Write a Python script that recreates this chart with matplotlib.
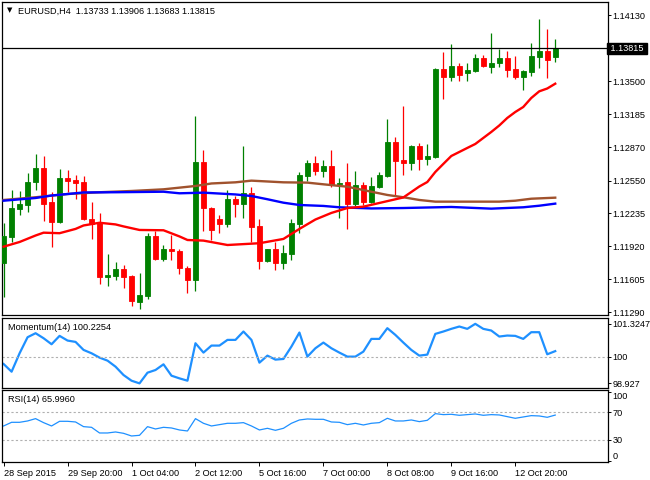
import matplotlib
matplotlib.use("Agg")
import matplotlib.pyplot as plt
import numpy as np

# EURUSD H4 candles
opens = [1.11764, 1.12013, 1.12281, 1.12319, 1.12536, 1.12670, 1.12345, 1.12153, 1.12575, 1.12555,
         1.12536, 1.12182, 1.12144, 1.11630, 1.11637, 1.11704, 1.11637, 1.11388, 1.11445, 1.12019,
         1.11799, 1.11895, 1.11876, 1.11716, 1.11598, 1.12728, 1.12290, 1.12182, 1.12134, 1.12374,
         1.12329, 1.12431, 1.12115, 1.11783, 1.11895, 1.11764, 1.11850, 1.12134, 1.12594, 1.12718,
         1.12642, 1.12689, 1.12514, 1.12536, 1.12326, 1.12508, 1.12345, 1.12488, 1.12594, 1.12919,
         1.12747, 1.12718, 1.12881, 1.12756, 1.12778, 1.13618, 1.13544, 1.13646, 1.13582, 1.13602,
         1.13723, 1.13640, 1.13672, 1.13723, 1.13618, 1.13544, 1.13592, 1.13735, 1.13790, 1.13733]
highs = [1.12141, 1.12460, 1.12450, 1.12625, 1.12804, 1.12785, 1.12441, 1.12661, 1.12651, 1.12603,
         1.12594, 1.12345, 1.12240, 1.11847, 1.11771, 1.11742, 1.11650, 1.11665, 1.12045, 1.12070,
         1.11933, 1.12029, 1.11890, 1.11730, 1.13168, 1.12843, 1.12300, 1.12221, 1.12460, 1.12402,
         1.12881, 1.12491, 1.12182, 1.11895, 1.11962, 1.11933, 1.12182, 1.12632, 1.12747, 1.12785,
         1.12747, 1.12843, 1.12575, 1.12718, 1.12642, 1.12536, 1.12584, 1.12632, 1.13139, 1.12967,
         1.13264, 1.12890, 1.12910, 1.12900, 1.13630, 1.13780, 1.13857, 1.13675, 1.13675, 1.13761,
         1.13752, 1.13962, 1.13809, 1.13790, 1.13742, 1.13610, 1.13869, 1.14096, 1.14000, 1.13906]
lows = [1.11439, 1.11965, 1.12223, 1.12252, 1.12460, 1.12166, 1.11917, 1.12144, 1.12441, 1.12374,
        1.12173, 1.11991, 1.11560, 1.11544, 1.11598, 1.11522, 1.11350, 1.11321, 1.11419, 1.11790,
        1.11780, 1.11790, 1.11656, 1.11477, 1.11493, 1.12070, 1.11981, 1.12051, 1.12108, 1.12204,
        1.12195, 1.11965, 1.11707, 1.11774, 1.11697, 1.11707, 1.11790, 1.12045, 1.12546, 1.12603,
        1.12584, 1.12488, 1.12192, 1.12087, 1.12307, 1.12316, 1.12335, 1.12479, 1.12584, 1.12402,
        1.12603, 1.12651, 1.12651, 1.12699, 1.12766, 1.13331, 1.13506, 1.13506, 1.13506, 1.13589,
        1.13640, 1.13582, 1.13637, 1.13544, 1.13519, 1.13420, 1.13551, 1.13630, 1.13534, 1.13683]
closes = [1.12019, 1.12287, 1.12326, 1.12536, 1.12670, 1.12326, 1.12156, 1.12575, 1.12549, 1.12527,
          1.12182, 1.12134, 1.11630, 1.11646, 1.11704, 1.11627, 1.11397, 1.11455, 1.12019, 1.11799,
          1.11895, 1.11876, 1.11716, 1.11598, 1.12728, 1.12290, 1.12077, 1.12137, 1.12374, 1.12329,
          1.12431, 1.12108, 1.11783, 1.11895, 1.11764, 1.11857, 1.12144, 1.12603, 1.12718, 1.12642,
          1.12689, 1.12508, 1.12527, 1.12326, 1.12508, 1.12345, 1.12498, 1.12603, 1.12919, 1.12737,
          1.12718, 1.12881, 1.12756, 1.12785, 1.13618, 1.13544, 1.13646, 1.13563, 1.13608, 1.13723,
          1.13646, 1.13675, 1.13723, 1.13611, 1.13544, 1.13602, 1.13742, 1.13790, 1.13704, 1.13815]

# moving averages, sampled at some bars
red_ma_bars = [0, 2, 4, 5, 7, 9, 10, 12, 14, 15, 17, 20, 22, 23, 25, 28, 32, 35, 37, 39, 41, 43, 45,
               48, 50, 52, 53, 54, 55, 56, 58, 59, 61, 62, 63, 64, 65, 66, 67, 68, 69]
red_ma = [1.11917, 1.11962, 1.12024, 1.12051, 1.12046, 1.12087, 1.12120, 1.12146, 1.12130, 1.12111,
          1.12077, 1.12074, 1.12015, 1.11981, 1.11975, 1.11933, 1.11950, 1.11991, 1.12087, 1.12177,
          1.12240, 1.12287, 1.12300, 1.12353, 1.12388, 1.12493, 1.12536, 1.12632, 1.12709, 1.12785,
          1.12862, 1.12900, 1.13015, 1.13077, 1.13149, 1.13206, 1.13254, 1.13340, 1.13404, 1.13431,
          1.13477]
blue_ma_bars = [0, 4, 6, 8, 10, 14, 20, 22, 25, 29, 31, 33, 35, 37, 40, 42, 46, 50, 56, 61, 65, 67, 69]
blue_ma = [1.12357, 1.12383, 1.12407, 1.12421, 1.12436, 1.12438, 1.12443, 1.12428, 1.12434, 1.12417,
           1.12402, 1.12371, 1.12338, 1.12316, 1.12307, 1.12294, 1.12283, 1.12287, 1.12297, 1.12281,
           1.12294, 1.12309, 1.12329]
brown_ma_bars = [0, 4, 8, 12, 16, 20, 24, 26, 29, 31, 35, 38, 40, 43, 46, 48, 50, 52, 54, 62, 64, 66, 69]
brown_ma = [1.12364, 1.12390, 1.12421, 1.12438, 1.12450, 1.12466, 1.12498, 1.12522, 1.12533, 1.12549,
            1.12533, 1.12530, 1.12514, 1.12491, 1.12443, 1.12412, 1.12390, 1.12364, 1.12348, 1.12348,
            1.12357, 1.12376, 1.12386]

momentum = [99.707, 99.397, 100.139, 100.786, 100.947, 100.745, 100.503, 100.840, 100.651, 100.597,
            100.274, 100.139, 99.964, 99.842, 99.600, 99.263, 99.034, 98.927, 99.357, 99.465,
            99.694, 99.236, 99.128, 99.034, 100.543, 100.166, 100.449, 100.449, 100.678, 100.678,
            101.015, 100.678, 99.761, 100.044, 99.883, 99.910, 100.408, 100.974, 100.004, 100.341,
            100.570, 100.341, 100.166, 100.004, 100.004, 100.206, 100.718, 100.718, 101.150, 100.880,
            100.570, 100.274, 100.044, 100.085, 100.920, 101.015, 101.123, 101.217, 101.123, 101.3247,
            101.123, 101.055, 100.813, 100.853, 100.840, 100.718, 100.988, 100.988, 100.098, 100.2254]
rsi = [50.24, 55.54, 55.54, 57.47, 60.84, 55.06, 50.24, 56.99, 56.99, 56.02,
       49.28, 48.31, 40.12, 40.12, 41.57, 39.64, 35.78, 36.75, 49.28, 45.90,
       48.31, 47.35, 44.46, 43.01, 60.84, 54.10, 50.24, 52.17, 54.10, 54.10,
       55.06, 50.24, 44.46, 46.87, 43.98, 46.87, 54.10, 58.92, 60.36, 59.88,
       59.88, 56.02, 55.54, 52.17, 54.10, 51.69, 54.10, 55.06, 61.33, 57.47,
       57.47, 58.92, 56.51, 58.43, 68.07, 66.63, 67.11, 65.66, 66.63, 67.59,
       65.66, 66.63, 66.14, 63.73, 61.33, 63.25, 65.18, 64.70, 62.77, 65.996]

price_ticks = [1.11290, 1.11605, 1.11920, 1.12235, 1.12550, 1.12870, 1.13185, 1.13500, 1.14130]
time_tick_bars = [0, 8, 16, 24, 32, 40, 48, 56, 64]
time_labels = ["28 Sep 2015", "29 Sep 20:00", "1 Oct 04:00", "2 Oct 12:00", "5 Oct 16:00",
               "7 Oct 00:00", "8 Oct 08:00", "9 Oct 16:00", "12 Oct 20:00"]
last_price = 1.13815

plt.rcParams['font.family'] = ['Liberation Sans', 'DejaVu Sans']
FS = 6.6

fig = plt.figure(figsize=(6.5, 4.8), dpi=100)
W, H = 650.0, 480.0


def panel(top, bottom):
    return fig.add_axes([2 / W, 1 - bottom / H, 606 / W, (bottom - top) / H])


ax = panel(2, 315)
axm = panel(318, 388)
axr = panel(390, 462)

xlim = (-0.2, 75.6)
for a in (ax, axm, axr):
    a.set_xlim(*xlim)
    for s in a.spines.values():
        s.set_linewidth(0.9)
        s.set_color('black')
    a.yaxis.tick_right()
    a.tick_params(axis='y', direction='out', length=2, width=0.7, labelsize=FS, pad=1.2)
    a.tick_params(axis='x', bottom=False, labelbottom=False)

# candles
idx = np.arange(len(opens))
o = np.array(opens); c = np.array(closes)
up = c >= o
cols = np.where(up, '#008000', '#ff0000')
ax.vlines(idx, lows, highs, colors=cols, linewidth=0.9, zorder=2)
ax.bar(idx, np.abs(c - o), bottom=np.minimum(o, c), width=0.62, color=cols,
       edgecolor=cols, linewidth=0.6, zorder=3)

ax.plot(brown_ma_bars, brown_ma, color='#a0522d', linewidth=1.7, zorder=4)
ax.plot(blue_ma_bars, blue_ma, color='#0000ff', linewidth=1.7, zorder=4)
ax.plot(red_ma_bars, red_ma, color='#ff0000', linewidth=1.7, zorder=4)

ax.axhline(last_price, color='black', linewidth=0.9, zorder=5)
ax.set_ylim(1.11263, 1.14259)
ax.set_yticks(price_ticks)
ax.set_yticklabels([f"{v:.5f}" for v in price_ticks])
ax.text(1.0, last_price, f" {last_price:.5f} ", transform=ax.get_yaxis_transform(),
        ha='left', va='center', fontsize=FS, color='white',
        bbox=dict(boxstyle='square,pad=0.15', fc='black', ec='black'), clip_on=False)
ax.text(0.008, 0.982, "\u25BC", transform=ax.transAxes, fontsize=5, va='top', ha='left',
        family='DejaVu Sans')
ax.text(0.027, 0.985, "EURUSD,H4  1.13733 1.13906 1.13683 1.13815", transform=ax.transAxes,
        fontsize=FS, va='top', ha='left')

# momentum
axm.plot(idx, momentum, color='#1e90ff', linewidth=1.6)
axm.axhline(100, color='#b0b0b0', linewidth=0.8, linestyle=(0, (2, 2)))
axm.set_ylim(98.74, 101.56)
axm.set_yticks([98.927, 100, 101.3247])
axm.set_yticklabels(["98.927", "100", "101.3247"])
axm.text(0.01, 0.93, "Momentum(14) 100.2254", transform=axm.transAxes, fontsize=FS,
         va='top', ha='left')

# rsi
axr.plot(idx, rsi, color='#1e90ff', linewidth=0.9)
for lvl in (70, 30):
    axr.axhline(lvl, color='#b0b0b0', linewidth=0.8, linestyle=(0, (2, 2)))
axr.set_ylim(-1.8, 102.2)
axr.set_yticks([0, 30, 70, 100])
axr.set_yticklabels(["0", "30", "70", "100"])
lbls = axr.get_yticklabels()
lbls[0].set_va('bottom')
lbls[3].set_va('top')
axr.text(0.01, 0.93, "RSI(14) 65.9960", transform=axr.transAxes, fontsize=FS,
         va='top', ha='left')

axr.set_xticks(time_tick_bars)
axr.set_xticklabels(time_labels, ha='left')
axr.tick_params(axis='x', bottom=True, labelbottom=True, direction='out', length=3,
                width=0.7, labelsize=FS, pad=2)

fig.savefig("out.png", dpi=100)
